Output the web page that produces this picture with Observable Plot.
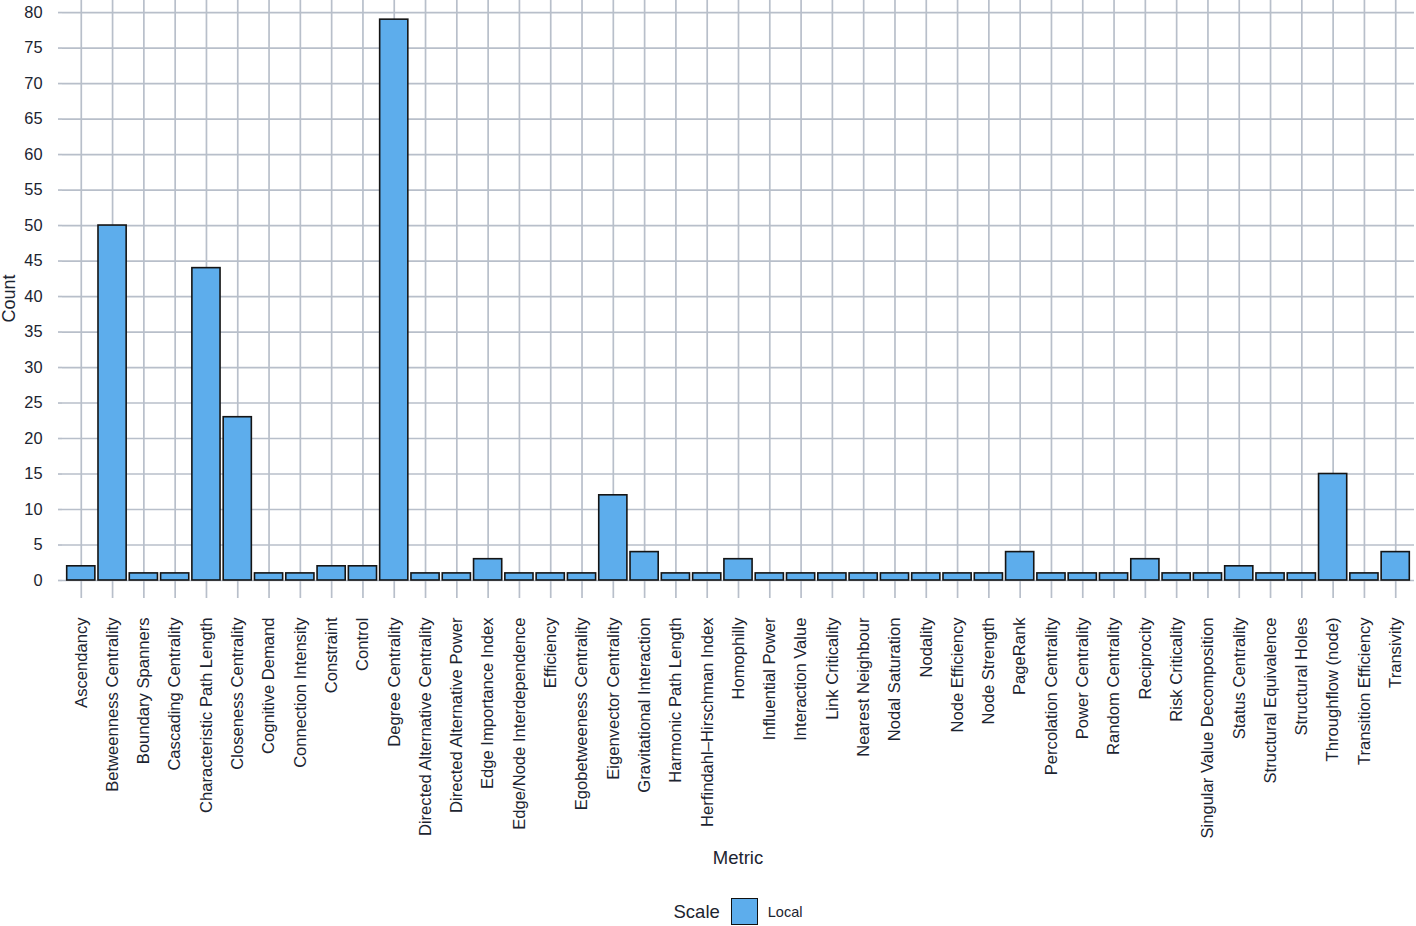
<!DOCTYPE html>
<html><head><meta charset="utf-8">
<script src="https://cdn.jsdelivr.net/npm/d3@7"></script>
<script src="https://cdn.jsdelivr.net/npm/@observablehq/plot@0.6"></script>
<style>
body{margin:0;background:#fff;font-family:"Liberation Sans",Arial,sans-serif;color:#1c2430;}
#chart svg{display:block;}
#xtitle{width:1416px;box-sizing:border-box;padding-left:62px;padding-right:2px;text-align:center;font-size:18.5px;height:26px;line-height:26px;}
#legend{width:1416px;box-sizing:border-box;padding-left:62px;padding-right:2px;margin-top:27px;height:27px;display:flex;justify-content:center;align-items:center;}
#legend .lt{font-size:18.5px;margin-right:11px;}
#legend .sw{width:25px;height:25px;border:1.5px solid #111;background:#5dadec;margin-right:10px;}
#legend .ll{font-size:14.5px;}
</style></head><body>
<div id="chart"></div>
<div id="xtitle">Metric</div>
<div id="legend"><span class="lt">Scale</span><span class="sw"></span><span class="ll">Local</span></div>
<script>
const metrics = [
  "Ascendancy","Betweenness Centrality","Boundary Spanners","Cascading Centrality",
  "Characteristic Path Length","Closeness Centrality","Cognitive Demand","Connection Intensity",
  "Constraint","Control","Degree Centrality","Directed Alternative Centrality",
  "Directed Alternative Power","Edge Importance Index","Edge/Node Interdependence","Efficiency",
  "Egobetweeness Centrality","Eigenvector Centrality","Gravitational Interaction","Harmonic Path Length",
  "Herfindahl\u2013Hirschman Index","Homophilly","Influential Power","Interaction Value",
  "Link Criticality","Nearest Neighbour","Nodal Saturation","Nodality",
  "Node Efficiency","Node Strength","PageRank","Percolation Centrality",
  "Power Centrality","Random Centrality","Reciprocity","Risk Criticality",
  "Singular Value Decomposition","Status Centrality","Structural Equivalence","Structural Holes",
  "Throughflow (node)","Transition Efficiency","Transivity"
];
const counts = [
  2,50,1,1,
  44,23,1,1,
  2,2,79,1,
  1,3,1,1,
  1,12,4,1,
  1,3,1,1,
  1,1,1,1,
  1,1,4,1,
  1,1,3,1,
  1,2,1,1,
  15,1,4
];
const scaleGroup = "Local";
const yTicks = [0,5,10,15,20,25,30,35,40,45,50,55,60,65,70,75,80];
const yTitle = "Count";

const data = metrics.map((m, i) => ({metric: m, count: counts[i], scale: scaleGroup}));
const grid = "#b8bfca";
const ink = "#1c2430";

const chart = Plot.plot({
  width: 1416, height: 845,
  marginLeft: 62, marginRight: 2, marginTop: 0, marginBottom: 265,
  style: {fontFamily: "Liberation Sans, Arial, sans-serif", fontSize: "16px", color: ink, background: "#fff"},
  x: {domain: metrics, paddingInner: 0.1, paddingOuter: 0.15, round: false, label: null},
  y: {domain: [0, 81.7], label: null},
  marks: [
    Plot.gridY(yTicks, {stroke: grid, strokeWidth: 1.7, strokeOpacity: 1}),
    Plot.gridX({stroke: grid, strokeWidth: 1.7, strokeOpacity: 1}),
    Plot.axisY(yTicks, {tickSize: 4, tickPadding: 16, stroke: grid, strokeWidth: 1.7, strokeOpacity: 1, fill: ink, fontSize: 16.4, label: null}),
    Plot.axisX({tickSize: 18, text: null, stroke: grid, strokeWidth: 1.7, strokeOpacity: 1, label: null}),
    Plot.axisX({tickSize: 0, tickRotate: -90, tickPadding: 37, fill: ink, fontSize: 16.6, label: null}),
    Plot.barY(data, {x: "metric", y: "count", fill: "#5dadec", stroke: "#151515", strokeWidth: 1.6}),
    Plot.text([yTitle], {text: d => d, frameAnchor: "left", textAnchor: "middle", lineAnchor: "middle", rotate: -90, dx: -53, dy: 8, fontSize: 18, fill: ink})
  ]
});
document.getElementById("chart").appendChild(chart);
</script>
</body></html>
